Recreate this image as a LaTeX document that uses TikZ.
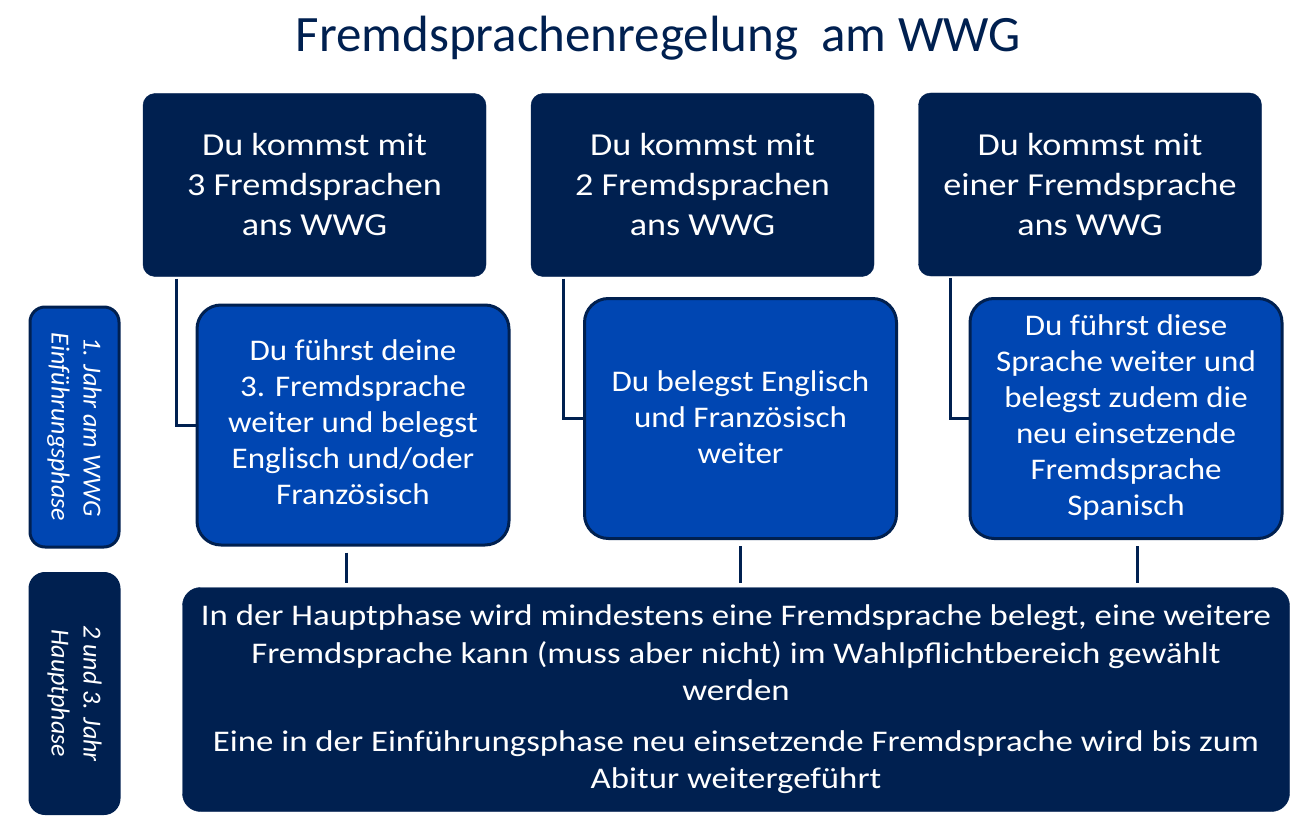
\documentclass[tikz,border=0pt]{standalone}
\usepackage{fontspec}
\usepackage{graphicx}
\setmainfont{Carlito}
\definecolor{navy}{RGB}{0,32,80}
\definecolor{mblue}{RGB}{0,70,178}
\newcommand{\hsc}[2]{\scalebox{#1}[1]{\begin{tabular}{@{}c@{}}#2\end{tabular}}}
\newcommand{\dn}[2]{\raisebox{-#1}[\height][\depth]{#2}}
\tikzset{
  topbox/.style={fill=navy, draw=navy, rounded corners=12pt, minimum width=343pt, minimum height=183pt, inner sep=0pt, text=white, align=center, font=\fontsize{32}{40}\selectfont},
  bluebox/.style={fill=mblue, draw=navy, line width=3pt, rounded corners=24pt, minimum width=312pt, minimum height=240pt, inner sep=0pt, text=white, align=center, font=\fontsize{30}{36}\selectfont},
  sidebox/.style={draw=navy, line width=3pt, rounded corners=15pt, minimum width=240pt, minimum height=89pt, inner sep=0pt, text=white, align=center, rotate=-90, font=\fontsize{26}{32}\selectfont\itshape},
  conn/.style={draw=navy, line width=3pt},
}
\begin{document}
\begin{tikzpicture}[x=1pt,y=-1pt]
\path[use as bounding box, fill=white] (0,0) rectangle (1296,821);
\node[anchor=base, text=navy, font=\fontsize{51}{60}\selectfont] (title) at (658,52) {Fremdsprachenregelung\ \ am WWG};
\node[topbox] (t1) at (314.5,185) {\dn{3pt}{\hsc{1.13}{Du kommst mit\\3 Fremdsprachen\\ans WWG}}};
\node[topbox] (t2) at (702.5,185) {\dn{3pt}{\hsc{1.13}{Du kommst mit\\2 Fremdsprachen\\ans WWG}}};
\node[topbox] (t3) at (1090,184.5) {\dn{3pt}{\hsc{1.13}{Du kommst mit\\einer Fremdsprache\\ans WWG}}};
\node[bluebox] (b1) at (353,425) {\hsc{1.1}{Du führst deine\\3. Fremdsprache\\weiter und belegst\\Englisch und/oder\\Französisch}};
\node[bluebox] (b2) at (740.5,418.5) {\dn{2pt}{\hsc{1.1}{Du belegst Englisch\\und Französisch\\weiter}}};
\node[bluebox] (b3) at (1126,418.5) {\hsc{1.1}{Du führst diese\\Sprache weiter und\\belegst zudem die\\neu einsetzende\\Fremdsprache\\Spanisch}};
\node[sidebox, fill=mblue] (s1) at (74.5,427) {1. Jahr am WWG\\Einführungsphase};
\node[sidebox, fill=navy] (s2) at (74.5,693.5) {2 und 3. Jahr\\Hauptphase};
\node[fill=navy, draw=navy, rounded corners=18pt, minimum width=1107pt, minimum height=224pt, inner sep=0pt, text=white, align=center, font=\fontsize{30}{37.5}\selectfont] (bot) at (736,699.5) {\hsc{1.16}{In der Hauptphase wird mindestens eine Fremdsprache belegt, eine weitere\\Fremdsprache kann (muss aber nicht) im Wahlpflichtbereich gewählt\\werden\\[13pt]Eine in der Einführungsphase neu einsetzende Fremdsprache wird bis zum\\Abitur weitergeführt}};
\draw[conn, shorten <=2pt] ([xshift=-138.5pt]t1.south) |- (b1.west);
\draw[conn, shorten <=2pt] ([xshift=-139.5pt]t2.south) |- (b2.west);
\draw[conn, shorten <=2pt] ([xshift=-140pt]t3.south) |- (b3.west);
\draw[conn, shorten <=6pt, shorten >=4pt] ([xshift=-7pt]b1.south) -- ([xshift=-7pt]b1.south |- bot.north);
\draw[conn, shorten <=6pt, shorten >=4pt] (b2.south) -- (b2.south |- bot.north);
\draw[conn, shorten <=6pt, shorten >=4pt] ([xshift=11pt]b3.south) -- ([xshift=11pt]b3.south |- bot.north);
\end{tikzpicture}
\end{document}
